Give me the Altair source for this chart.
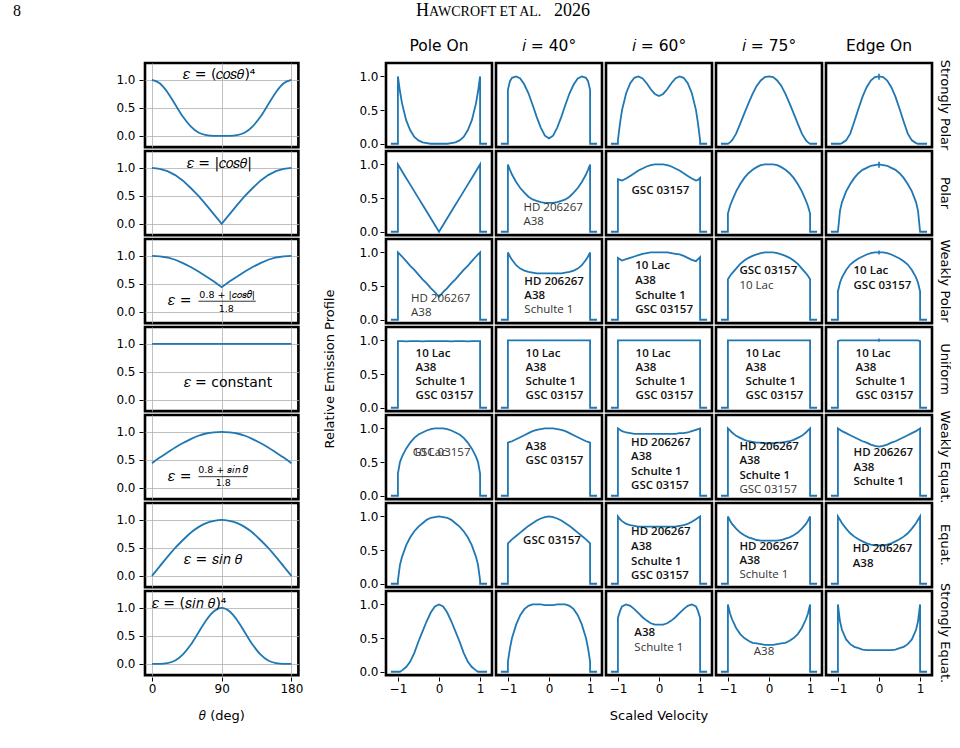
import altair as alt
import pandas as pd

BLUE = "#1f77b4"

# ---------------------------------------------------------------------------
# Left column: emissivity laws against colatitude
# ---------------------------------------------------------------------------
THETA = [0, 10, 20, 30, 40, 50, 60, 70, 80, 90, 100, 110, 120, 130, 140, 150, 160, 170, 180]

EPS_COS4 = [1.0, 0.94, 0.78, 0.56, 0.34, 0.17, 0.06, 0.014, 0.001, 0.0,
            0.001, 0.014, 0.06, 0.17, 0.34, 0.56, 0.78, 0.94, 1.0]
EPS_ABSCOS = [1.0, 0.98, 0.94, 0.87, 0.77, 0.64, 0.5, 0.34, 0.17, 0.0,
              0.17, 0.34, 0.5, 0.64, 0.77, 0.87, 0.94, 0.98, 1.0]
EPS_WEAKPOLAR = [1.0, 0.99, 0.97, 0.93, 0.87, 0.8, 0.72, 0.63, 0.54, 0.44,
                 0.54, 0.63, 0.72, 0.8, 0.87, 0.93, 0.97, 0.99, 1.0]
EPS_CONST = [1.0, 1.0, 1.0, 1.0, 1.0, 1.0, 1.0, 1.0, 1.0, 1.0,
             1.0, 1.0, 1.0, 1.0, 1.0, 1.0, 1.0, 1.0, 1.0]
EPS_WEAKEQUAT = [0.44, 0.54, 0.63, 0.72, 0.8, 0.87, 0.93, 0.97, 0.99, 1.0,
                 0.99, 0.97, 0.93, 0.87, 0.8, 0.72, 0.63, 0.54, 0.44]
EPS_SIN = [0.0, 0.17, 0.34, 0.5, 0.64, 0.77, 0.87, 0.94, 0.98, 1.0,
           0.98, 0.94, 0.87, 0.77, 0.64, 0.5, 0.34, 0.17, 0.0]
EPS_SIN4 = [0.0, 0.001, 0.014, 0.06, 0.17, 0.34, 0.56, 0.78, 0.94, 1.0,
            0.94, 0.78, 0.56, 0.34, 0.17, 0.06, 0.014, 0.001, 0.0]

LAWS = ["cos4", "abscos", "weakpolar", "const", "weakequat", "sin", "sin4"]
LAW_CURVES = [EPS_COS4, EPS_ABSCOS, EPS_WEAKPOLAR, EPS_CONST, EPS_WEAKEQUAT, EPS_SIN, EPS_SIN4]
KINKED_LAWS = ["abscos", "weakpolar"]   # drawn with straight segments (cusp at 90 deg)

# formula labels: (law, theta, y, text)
LAW_LABELS = [
    ("cos4", 87, 1.08, "𝜀 = (𝑐𝑜𝑠𝜃)⁴"),
    ("abscos", 87, 1.07, "𝜀 = |𝑐𝑜𝑠𝜃|"),
    ("weakpolar", 36, 0.19, "𝜀 ="),
    ("const", 98, 0.31, "𝜀 = constant"),
    ("weakequat", 36, 0.20, "𝜀 ="),
    ("sin", 79, 0.28, "𝜀 = 𝑠𝑖𝑛 𝜃"),
    ("sin4", 48, 1.07, "𝜀 = (𝑠𝑖𝑛 𝜃)⁴"),
]
# numerators / denominators of the two fractions
LAW_FRACTION_PARTS = [
    ("weakpolar", 97, 0.31, "0.8 + |𝑐𝑜𝑠𝜃|"),
    ("weakpolar", 96, 0.06, "1.8"),
    ("weakequat", 92, 0.32, "0.8 + 𝑠𝑖𝑛 𝜃"),
    ("weakequat", 92, 0.09, "1.8"),
]
# fraction bars: (law, theta start, theta end, y)
LAW_FRACTION_BARS = [
    ("weakpolar", 60, 134, 0.19),
    ("weakequat", 60, 123, 0.20),
]

# ---------------------------------------------------------------------------
# Right grid: model line profiles
# ---------------------------------------------------------------------------
VEL = [-1.17, -1.0, -1.0, -0.95, -0.9, -0.8, -0.7, -0.6, -0.5, -0.4, -0.3, -0.2, -0.1, 0.0,
       0.1, 0.2, 0.3, 0.4, 0.5, 0.6, 0.7, 0.8, 0.9, 0.95, 1.0, 1.0, 1.17]

INCLINATIONS = ["Pole On", "𝑖 = 40°", "𝑖 = 60°", "𝑖 = 75°", "Edge On"]
MODELS = ["Strongly Polar", "Polar", "Weakly Polar", "Uniform",
          "Weakly Equat.", "Equat.", "Strongly Equat."]

STRONGLY_POLAR = [
    [0, 0, 1.0, 0.78, 0.6, 0.35, 0.2, 0.1, 0.05, 0.02, 0.01, 0.0, 0.0, 0.0,
     0.0, 0.0, 0.01, 0.02, 0.05, 0.1, 0.2, 0.35, 0.6, 0.78, 1.0, 0, 0],
    [0, 0, 0.8, 0.93, 0.98, 1.0, 0.97, 0.88, 0.75, 0.58, 0.4, 0.24, 0.12, 0.08,
     0.12, 0.24, 0.4, 0.58, 0.75, 0.88, 0.97, 1.0, 0.98, 0.93, 0.8, 0, 0],
    [0, 0, 0.05, 0.3, 0.5, 0.75, 0.9, 0.98, 1.0, 0.97, 0.9, 0.81, 0.74, 0.71,
     0.74, 0.81, 0.9, 0.97, 1.0, 0.98, 0.9, 0.75, 0.5, 0.3, 0.05, 0, 0],
    [0, 0, 0.0, 0.02, 0.05, 0.15, 0.3, 0.45, 0.6, 0.74, 0.86, 0.94, 0.99, 1.0,
     0.99, 0.94, 0.86, 0.74, 0.6, 0.45, 0.3, 0.15, 0.05, 0.02, 0.0, 0, 0],
    [0, 0, 0.0, 0.0, 0.01, 0.05, 0.15, 0.33, 0.52, 0.7, 0.84, 0.94, 0.99, 1.0,
     0.99, 0.94, 0.84, 0.7, 0.52, 0.33, 0.15, 0.05, 0.01, 0.0, 0.0, 0, 0],
]
POLAR = [
    [0, 0, 1.0, 0.95, 0.9, 0.8, 0.7, 0.6, 0.5, 0.4, 0.3, 0.2, 0.1, 0.0,
     0.1, 0.2, 0.3, 0.4, 0.5, 0.6, 0.7, 0.8, 0.9, 0.95, 1.0, 0, 0],
    [0, 0, 1.0, 0.92, 0.85, 0.74, 0.65, 0.58, 0.52, 0.48, 0.46, 0.44, 0.43, 0.43,
     0.43, 0.44, 0.46, 0.48, 0.52, 0.58, 0.65, 0.74, 0.85, 0.92, 1.0, 0, 0],
    [0, 0, 0.78, 0.77, 0.76, 0.79, 0.83, 0.87, 0.91, 0.94, 0.97, 0.99, 1.0, 1.0,
     1.0, 0.99, 0.97, 0.94, 0.91, 0.87, 0.83, 0.79, 0.76, 0.77, 0.8, 0, 0],
    [0, 0, 0.27, 0.38, 0.46, 0.6, 0.71, 0.8, 0.87, 0.92, 0.96, 0.99, 1.0, 1.0,
     1.0, 0.99, 0.96, 0.92, 0.87, 0.8, 0.71, 0.6, 0.46, 0.38, 0.27, 0, 0],
    [0, 0, 0.0, 0.31, 0.44, 0.6, 0.71, 0.8, 0.87, 0.92, 0.95, 0.98, 0.99, 1.0,
     0.99, 0.98, 0.95, 0.92, 0.87, 0.8, 0.71, 0.6, 0.44, 0.31, 0.0, 0, 0],
]
WEAKLY_POLAR = [
    [0, 0, 1.0, 0.97, 0.94, 0.87, 0.8, 0.74, 0.67, 0.6, 0.54, 0.47, 0.41, 0.34,
     0.41, 0.47, 0.54, 0.6, 0.67, 0.74, 0.8, 0.87, 0.94, 0.97, 1.0, 0, 0],
    [0, 0, 1.0, 0.94, 0.89, 0.81, 0.76, 0.73, 0.71, 0.7, 0.69, 0.69, 0.69, 0.69,
     0.69, 0.69, 0.69, 0.7, 0.71, 0.73, 0.76, 0.81, 0.89, 0.94, 1.0, 0, 0],
    [0, 0, 0.92, 0.9, 0.88, 0.9, 0.92, 0.94, 0.96, 0.98, 0.99, 1.0, 1.0, 1.0,
     1.0, 1.0, 0.99, 0.98, 0.97, 0.95, 0.92, 0.89, 0.87, 0.9, 0.93, 0, 0],
    [0, 0, 0.6, 0.65, 0.69, 0.76, 0.83, 0.88, 0.92, 0.95, 0.97, 0.99, 1.0, 1.0,
     1.0, 0.99, 0.97, 0.95, 0.92, 0.88, 0.83, 0.76, 0.69, 0.65, 0.6, 0, 0],
    [0, 0, 0.42, 0.55, 0.63, 0.74, 0.82, 0.87, 0.91, 0.94, 0.97, 0.99, 1.0, 1.0,
     1.0, 0.99, 0.97, 0.94, 0.91, 0.87, 0.82, 0.74, 0.63, 0.55, 0.42, 0, 0],
]
UNIFORM = [
    [0, 0, 0.99, 0.99, 0.99, 0.985, 0.99, 0.99, 0.99, 0.985, 0.99, 0.99, 0.99, 0.99,
     0.99, 0.99, 0.985, 0.99, 0.99, 0.99, 0.985, 0.99, 0.99, 0.99, 0.99, 0, 0],
    [0, 0, 1.0, 1.0, 1.0, 1.0, 1.0, 1.0, 1.0, 1.0, 1.0, 1.0, 1.0, 1.0,
     1.0, 1.0, 1.0, 1.0, 1.0, 1.0, 1.0, 1.0, 1.0, 1.0, 1.0, 0, 0],
    [0, 0, 1.0, 1.0, 1.0, 1.0, 1.0, 1.0, 1.0, 1.0, 1.0, 1.0, 1.0, 1.0,
     1.0, 1.0, 1.0, 1.0, 1.0, 1.0, 1.0, 1.0, 1.0, 1.0, 1.0, 0, 0],
    [0, 0, 1.0, 1.0, 1.0, 1.0, 1.0, 1.0, 1.0, 1.0, 1.0, 1.0, 1.0, 1.0,
     1.0, 1.0, 1.0, 1.0, 1.0, 1.0, 1.0, 1.0, 1.0, 1.0, 1.0, 0, 0],
    [0, 0, 0.99, 1.0, 1.0, 1.0, 1.0, 1.0, 1.0, 1.0, 1.0, 1.0, 1.0, 1.0,
     1.0, 1.0, 1.0, 1.0, 1.0, 1.0, 1.0, 1.0, 1.0, 1.0, 0.99, 0, 0],
]
WEAKLY_EQUAT = [
    [0, 0, 0.33, 0.5, 0.58, 0.7, 0.79, 0.86, 0.91, 0.94, 0.97, 0.99, 1.0, 1.0,
     1.0, 0.99, 0.97, 0.94, 0.91, 0.86, 0.79, 0.7, 0.58, 0.5, 0.33, 0, 0],
    [0, 0, 0.79, 0.8, 0.81, 0.84, 0.87, 0.9, 0.93, 0.96, 0.98, 0.99, 1.0, 1.0,
     1.0, 0.99, 0.98, 0.96, 0.93, 0.9, 0.87, 0.84, 0.81, 0.8, 0.79, 0, 0],
    [0, 0, 1.0, 0.98, 0.96, 0.94, 0.93, 0.92, 0.92, 0.92, 0.92, 0.92, 0.92, 0.92,
     0.92, 0.92, 0.92, 0.92, 0.93, 0.93, 0.94, 0.96, 0.98, 0.99, 1.0, 0, 0],
    [0, 0, 1.0, 0.97, 0.94, 0.89, 0.86, 0.83, 0.81, 0.8, 0.79, 0.79, 0.78, 0.78,
     0.78, 0.79, 0.79, 0.8, 0.81, 0.83, 0.86, 0.89, 0.94, 0.97, 1.0, 0, 0],
    [0, 0, 1.0, 0.98, 0.96, 0.93, 0.9, 0.87, 0.84, 0.81, 0.79, 0.76, 0.74, 0.73,
     0.74, 0.76, 0.79, 0.81, 0.84, 0.87, 0.9, 0.93, 0.96, 0.98, 1.0, 0, 0],
]
EQUAT = [
    [0, 0, 0.05, 0.28, 0.4, 0.57, 0.69, 0.78, 0.85, 0.9, 0.95, 0.98, 0.99, 1.0,
     0.99, 0.98, 0.95, 0.9, 0.85, 0.78, 0.69, 0.57, 0.4, 0.28, 0.05, 0, 0],
    [0, 0, 0.6, 0.63, 0.66, 0.71, 0.76, 0.81, 0.86, 0.9, 0.94, 0.97, 0.99, 1.0,
     0.99, 0.97, 0.94, 0.9, 0.86, 0.81, 0.76, 0.71, 0.66, 0.63, 0.6, 0, 0],
    [0, 0, 1.0, 0.96, 0.93, 0.89, 0.87, 0.86, 0.85, 0.85, 0.85, 0.85, 0.85, 0.85,
     0.85, 0.85, 0.85, 0.85, 0.86, 0.87, 0.89, 0.92, 0.96, 0.98, 1.0, 0, 0],
    [0, 0, 1.0, 0.94, 0.89, 0.82, 0.76, 0.72, 0.69, 0.67, 0.65, 0.64, 0.64, 0.64,
     0.64, 0.64, 0.65, 0.67, 0.69, 0.72, 0.76, 0.82, 0.89, 0.94, 1.0, 0, 0],
    [0, 0, 1.0, 0.95, 0.9, 0.82, 0.75, 0.7, 0.66, 0.63, 0.6, 0.58, 0.57, 0.57,
     0.57, 0.58, 0.6, 0.63, 0.66, 0.7, 0.75, 0.82, 0.9, 0.95, 1.0, 0, 0],
]
STRONGLY_EQUAT = [
    [0, 0, 0.0, 0.0, 0.02, 0.07, 0.15, 0.28, 0.45, 0.6, 0.75, 0.88, 0.97, 1.0,
     0.97, 0.88, 0.75, 0.6, 0.45, 0.28, 0.15, 0.07, 0.02, 0.0, 0.0, 0, 0],
    [0, 0, 0.15, 0.35, 0.5, 0.7, 0.84, 0.93, 0.98, 1.0, 1.0, 1.0, 0.99, 0.99,
     0.99, 1.0, 1.0, 1.0, 0.98, 0.93, 0.84, 0.7, 0.5, 0.35, 0.15, 0, 0],
    [0, 0, 0.8, 0.9, 0.97, 1.0, 0.98, 0.93, 0.87, 0.81, 0.76, 0.72, 0.7, 0.7,
     0.7, 0.72, 0.76, 0.81, 0.87, 0.93, 0.98, 1.0, 0.97, 0.9, 0.8, 0, 0],
    [0, 0, 1.0, 0.87, 0.78, 0.65, 0.56, 0.5, 0.46, 0.43, 0.42, 0.41, 0.4, 0.4,
     0.4, 0.41, 0.42, 0.43, 0.46, 0.5, 0.56, 0.65, 0.78, 0.87, 1.0, 0, 0],
    [0, 0, 1.0, 0.75, 0.62, 0.48, 0.41, 0.37, 0.35, 0.33, 0.32, 0.32, 0.32, 0.32,
     0.32, 0.32, 0.32, 0.33, 0.35, 0.37, 0.41, 0.48, 0.62, 0.75, 1.0, 0, 0],
]
PROFILES = [STRONGLY_POLAR, POLAR, WEAKLY_POLAR, UNIFORM, WEAKLY_EQUAT, EQUAT, STRONGLY_EQUAT]

# narrow noise spikes at line centre in the edge-on profiles: (model, inclination, low, high)
CENTRE_SPIKES = [
    ("Strongly Polar", 4, 0.95, 1.04),
    ("Polar", 4, 0.95, 1.04),
    ("Weakly Polar", 4, 0.97, 1.03),
    ("Uniform", 4, 0.98, 1.03),
]

# objects consistent with each model: (model, inclination, v, y, name, bold)
OBJECT_NOTES = [
    ("Polar", 1, -0.62, 0.36, "HD 206267", False),
    ("Polar", 1, -0.62, 0.15, "A38", False),
    ("Polar", 2, -0.67, 0.60, "GSC 03157", True),
    ("Weakly Polar", 0, -0.68, 0.31, "HD 206267", False),
    ("Weakly Polar", 0, -0.68, 0.10, "A38", False),
    ("Weakly Polar", 1, -0.60, 0.56, "HD 206267", True),
    ("Weakly Polar", 1, -0.60, 0.35, "A38", True),
    ("Weakly Polar", 1, -0.60, 0.14, "Schulte 1", False),
    ("Weakly Polar", 2, -0.58, 0.80, "10 Lac", True),
    ("Weakly Polar", 2, -0.58, 0.58, "A38", True),
    ("Weakly Polar", 2, -0.58, 0.36, "Schulte 1", True),
    ("Weakly Polar", 2, -0.58, 0.15, "GSC 03157", True),
    ("Weakly Polar", 3, -0.72, 0.73, "GSC 03157", True),
    ("Weakly Polar", 3, -0.72, 0.50, "10 Lac", False),
    ("Weakly Polar", 4, -0.62, 0.73, "10 Lac", True),
    ("Weakly Polar", 4, -0.62, 0.50, "GSC 03157", True),
    ("Weakly Equat.", 0, -0.64, 0.64, "GSC 03157", False),
    ("Weakly Equat.", 0, -0.64, 0.64, "10 Lac", False),
    ("Weakly Equat.", 1, -0.57, 0.73, "A38", True),
    ("Weakly Equat.", 1, -0.57, 0.51, "GSC 03157", True),
    ("Weakly Equat.", 2, -0.68, 0.79, "HD 206267", True),
    ("Weakly Equat.", 2, -0.68, 0.58, "A38", True),
    ("Weakly Equat.", 2, -0.68, 0.36, "Schulte 1", True),
    ("Weakly Equat.", 2, -0.68, 0.15, "GSC 03157", True),
    ("Weakly Equat.", 3, -0.72, 0.73, "HD 206267", True),
    ("Weakly Equat.", 3, -0.72, 0.51, "A38", True),
    ("Weakly Equat.", 3, -0.72, 0.29, "Schulte 1", True),
    ("Weakly Equat.", 3, -0.72, 0.08, "GSC 03157", False),
    ("Weakly Equat.", 4, -0.62, 0.63, "HD 206267", True),
    ("Weakly Equat.", 4, -0.62, 0.41, "A38", True),
    ("Weakly Equat.", 4, -0.62, 0.20, "Schulte 1", True),
    ("Equat.", 1, -0.63, 0.64, "GSC 03157", True),
    ("Equat.", 2, -0.68, 0.77, "HD 206267", True),
    ("Equat.", 2, -0.68, 0.55, "A38", True),
    ("Equat.", 2, -0.68, 0.33, "Schulte 1", True),
    ("Equat.", 2, -0.68, 0.12, "GSC 03157", True),
    ("Equat.", 3, -0.72, 0.55, "HD 206267", True),
    ("Equat.", 3, -0.72, 0.34, "A38", True),
    ("Equat.", 3, -0.72, 0.13, "Schulte 1", False),
    ("Equat.", 4, -0.64, 0.51, "HD 206267", True),
    ("Equat.", 4, -0.64, 0.29, "A38", True),
    ("Strongly Equat.", 2, -0.60, 0.57, "A38", True),
    ("Strongly Equat.", 2, -0.60, 0.36, "Schulte 1", False),
    ("Strongly Equat.", 3, -0.37, 0.30, "A38", False),
]
UNIFORM_OBJECTS = ["10 Lac", "A38", "Schulte 1", "GSC 03157"]
UNIFORM_NOTE_Y = [0.80, 0.59, 0.38, 0.17]
UNIFORM_NOTE_V = -0.57

# ---------------------------------------------------------------------------
# tables
# ---------------------------------------------------------------------------
left_rows = []
for law, curve in zip(LAWS, LAW_CURVES):
    kind = "kinked" if law in KINKED_LAWS else "smooth"
    for i, (t, e) in enumerate(zip(THETA, curve)):
        left_rows.append(dict(law=law, hdr=".", kind=kind, idx=i, theta=t, theta2=None, y=e, label=""))
for law, t, y, txt in LAW_LABELS:
    left_rows.append(dict(law=law, hdr=".", kind="eq", idx=0, theta=t, theta2=None, y=y, label=txt))
for law, t, y, txt in LAW_FRACTION_PARTS:
    left_rows.append(dict(law=law, hdr=".", kind="frac", idx=0, theta=t, theta2=None, y=y, label=txt))
for law, t1, t2, y in LAW_FRACTION_BARS:
    left_rows.append(dict(law=law, hdr=".", kind="bar", idx=0, theta=t1, theta2=t2, y=y, label=""))
left_df = pd.DataFrame(left_rows)

right_rows = []
for model, profiles in zip(MODELS, PROFILES):
    for inc, prof in zip(INCLINATIONS, profiles):
        for i, (v, p) in enumerate(zip(VEL, prof)):
            right_rows.append(dict(model=model, inc=inc, kind="line", idx=i, v=v, y=p, y2=None, label=""))
for model, c, lo, hi in CENTRE_SPIKES:
    right_rows.append(dict(model=model, inc=INCLINATIONS[c], kind="spike", idx=0, v=0.0,
                           y=lo, y2=hi, label=""))
for model, c, v, y, name, bold in OBJECT_NOTES:
    right_rows.append(dict(model=model, inc=INCLINATIONS[c], kind="bold" if bold else "plain",
                           idx=0, v=v, y=y, y2=None, label=name))
for inc in INCLINATIONS:
    for name, y in zip(UNIFORM_OBJECTS, UNIFORM_NOTE_Y):
        right_rows.append(dict(model="Uniform", inc=inc, kind="bold", idx=0,
                               v=UNIFORM_NOTE_V, y=y, y2=None, label=name))
right_df = pd.DataFrame(right_rows)

STROKE = 2.6
CELL_PAD = 3.6   # a facet cell is its plot size plus this much of frame
HEADER_TITLE = dict(titleFont="DejaVu Sans", titleFontSize=13, titleFontWeight="normal", titleColor="black")

# ---------------------------------------------------------------------------
# left column
# ---------------------------------------------------------------------------
lx = alt.X("theta:Q", scale=alt.Scale(domain=[-9, 189], nice=False, zero=False),
           axis=alt.Axis(values=[0, 90, 180], title=None, grid=True, format="d"))
ly = alt.Y("y:Q", scale=alt.Scale(domain=[-0.2, 1.3], nice=False, zero=False),
           axis=alt.Axis(values=[0, 0.5, 1.0], format=".1f", title=None, grid=True, labelPadding=4))

l_smooth = alt.Chart().transform_filter(alt.datum.kind == "smooth").mark_line(
    color=BLUE, strokeWidth=1.8, interpolate="monotone").encode(x=lx, y=ly, order="idx:Q")
l_kinked = alt.Chart().transform_filter(alt.datum.kind == "kinked").mark_line(
    color=BLUE, strokeWidth=1.8).encode(x=lx, y=ly, order="idx:Q")
l_eq = alt.Chart().transform_filter(alt.datum.kind == "eq").mark_text(
    font="DejaVu Sans", fontSize=14, color="black", align="center", baseline="middle"
).encode(x=lx, y=ly, text="label:N")
l_frac = alt.Chart().transform_filter(alt.datum.kind == "frac").mark_text(
    font="DejaVu Sans", fontSize=9.5, color="black", align="center", baseline="middle"
).encode(x=lx, y=ly, text="label:N")
l_bar = alt.Chart().transform_filter(alt.datum.kind == "bar").mark_rule(
    color="black", strokeWidth=0.8).encode(x=lx, x2="theta2:Q", y=ly)

left = alt.layer(l_smooth, l_kinked, l_eq, l_frac, l_bar, data=left_df).properties(
    width=157 - CELL_PAD, height=87.7 - CELL_PAD
).facet(
    row=alt.Row("law:N", sort=LAWS, header=alt.Header(title=None, labels=False)),
    column=alt.Column("hdr:N", header=alt.Header(title="𝜃 (deg)", titleOrient="bottom", titlePadding=6,
                                                  labelOrient="top", labelFontSize=15.5,
                                                  labelFont="DejaVu Sans", labelColor="white",
                                                  labelPadding=7, **HEADER_TITLE)),
    spacing=0,
)

# ---------------------------------------------------------------------------
# right grid
# ---------------------------------------------------------------------------
rx = alt.X("v:Q", scale=alt.Scale(domain=[-1.29, 1.29], nice=False, zero=False),
           axis=alt.Axis(values=[-1, 0, 1], format="d", title=None, grid=False))
ry = alt.Y("y:Q", scale=alt.Scale(domain=[-0.05, 1.2], nice=False, zero=False),
           axis=alt.Axis(values=[0, 0.5, 1.0], format=".1f", title=None, grid=False))

r_line = alt.Chart().transform_filter(alt.datum.kind == "line").mark_line(
    color=BLUE, strokeWidth=1.8).encode(x=rx, y=ry, order="idx:Q")
r_spike = alt.Chart().transform_filter(alt.datum.kind == "spike").mark_rule(
    color=BLUE, strokeWidth=1.6).encode(x=rx, y=ry, y2="y2:Q")
r_bold = alt.Chart().transform_filter(alt.datum.kind == "bold").mark_text(
    font="Open Sans", fontSize=11.5, fontWeight=600, color="#111111", align="left", baseline="middle"
).encode(x=rx, y=ry, text="label:N")
r_plain = alt.Chart().transform_filter(alt.datum.kind == "plain").mark_text(
    font="Open Sans", fontSize=11.5, fontWeight=400, color="#333333", align="left", baseline="middle"
).encode(x=rx, y=ry, text="label:N")

right = alt.layer(r_line, r_spike, r_bold, r_plain, data=right_df).properties(
    width=109.6 - CELL_PAD, height=87.7 - CELL_PAD
).facet(
    row=alt.Row("model:N", sort=MODELS,
                header=alt.Header(title="Relative Emission Profile", titleOrient="left", titlePadding=11,
                                  labelOrient="right", labelAngle=90, labelFontSize=13,
                                  labelFont="DejaVu Sans", labelPadding=4, **HEADER_TITLE)),
    column=alt.Column("inc:N", sort=INCLINATIONS,
                      header=alt.Header(title="Scaled Velocity", titleOrient="bottom", titlePadding=6,
                                        labelOrient="top", labelFontSize=15.5, labelFont="DejaVu Sans",
                                        labelPadding=7, **HEADER_TITLE)),
    spacing=0,
)

# ---------------------------------------------------------------------------
# running head of the page
# ---------------------------------------------------------------------------
def page_text(txt, px, py, size):
    return alt.Chart(pd.DataFrame({"t": [txt]})).mark_text(
        font="Liberation Serif", fontSize=size, align="left", baseline="alphabetic", color="black"
    ).encode(text="t:N", x=alt.value(px), y=alt.value(py))


head = alt.layer(
    page_text("8", 2, 16, 16),
    page_text("H", 405, 16, 18),
    page_text("AWCROFT ET AL.", 418, 16, 14),
    page_text("2026", 543, 16, 18),
).properties(width=930, height=18, view=alt.ViewBackground(stroke=None))

spacer = alt.Chart(pd.DataFrame({"a": [0]})).mark_point(opacity=0).encode(
    x=alt.value(0), y=alt.value(0)
).properties(width=84, height=10, view=alt.ViewBackground(stroke=None))

body = alt.hconcat(spacer, left, right, spacing=20)

chart = alt.vconcat(head, body, spacing=18).properties(
    padding={"left": 8, "top": 0, "right": 0, "bottom": 0}
).configure_view(
    stroke="black", strokeWidth=STROKE
).configure_axis(
    labelFont="DejaVu Sans", labelFontSize=12, labelColor="black",
    titleFont="DejaVu Sans", titleFontSize=13, titleFontWeight="normal", titleColor="black",
    tickColor="black", tickSize=4, tickWidth=1, domain=False,
    gridColor="#b0b0b0", gridWidth=0.8,
)

chart.save("out.html", embed_options={"renderer": "svg", "actions": False})
